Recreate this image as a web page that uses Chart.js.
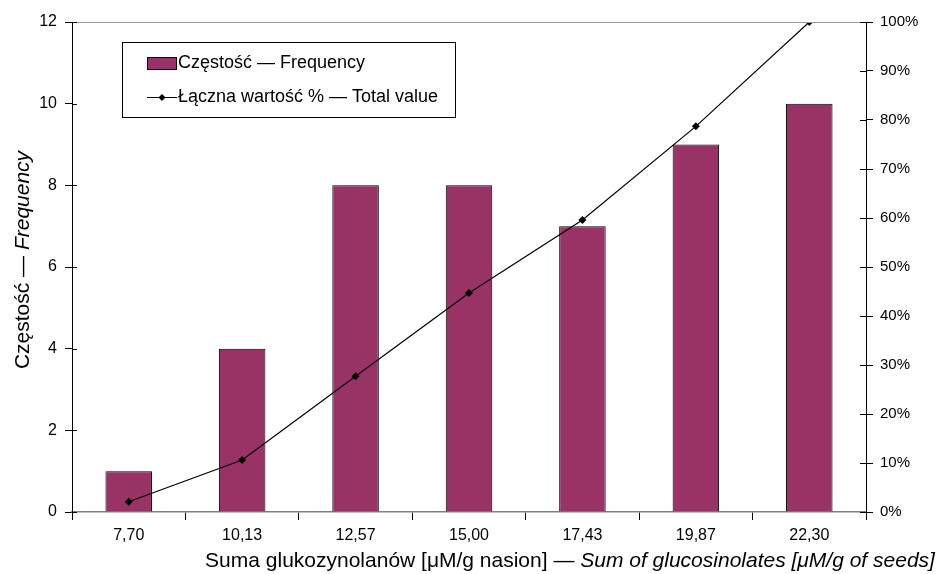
<!DOCTYPE html>
<html>
<head>
<meta charset="utf-8">
<script src="https://cdn.jsdelivr.net/npm/chart.js@4"></script>
<style>
  html, body { margin: 0; padding: 0; background: #fff; }
  #wrap { width: 945px; height: 574px; }
</style>
</head>
<body>
<div id="wrap"><canvas id="chart" width="945" height="574"></canvas></div>
<script>
// values
const categories = ["7,70", "10,13", "12,57", "15,00", "17,43", "19,87", "22,30"];
const frequency = [1, 4, 8, 8, 7, 9, 10];
const cumulativePct = [2.1, 10.6, 27.7, 44.7, 59.6, 78.7, 100];

const FONT = "'Liberation Sans', Arial, sans-serif";
const PLUM = "#993366";

// axis titles with mixed upright / italic parts, legend box, inner tick halves
const decor = {
  id: "decor",
  afterDraw(chart) {
    const c = chart.ctx;
    const a = chart.chartArea;
    const barSet = chart.data.datasets.find(d => d.type !== "line");
    const lineSet = chart.data.datasets.find(d => d.type === "line");
    c.save();

    // top border of plot area
    c.strokeStyle = "#9a9a9a";
    c.lineWidth = 1;
    c.beginPath();
    c.moveTo(a.left, a.top + 0.5);
    c.lineTo(a.right, a.top + 0.5);
    c.stroke();

    // inner half of the y ticks (they cross the axis)
    c.strokeStyle = "#000";
    const yl = chart.scales.y, yr = chart.scales.y1;
    yl.ticks.forEach(t => {
      const py = Math.round(yl.getPixelForValue(t.value)) + 0.5;
      c.beginPath(); c.moveTo(a.left, py); c.lineTo(a.left + 5, py); c.stroke();
    });
    yr.ticks.forEach(t => {
      const py = Math.round(yr.getPixelForValue(t.value)) + 0.5;
      c.beginPath(); c.moveTo(a.right - 6, py); c.lineTo(a.right, py); c.stroke();
    });

    // x title
    c.fillStyle = "#000";
    c.textBaseline = "alphabetic";
    const p1 = "Suma glukozynolanów [\u03bcM/g nasion] \u2014 ";
    const p2 = "Sum of glucosinolates [\u03bcM/g of seeds]";
    c.font = "21px " + FONT;
    const w1 = c.measureText(p1).width;
    c.font = "italic 21px " + FONT;
    const w2 = c.measureText(p2).width;
    let x0 = 570 - (w1 + w2) / 2;
    if (x0 + w1 + w2 > 943) x0 = 943 - w1 - w2;
    c.font = "21px " + FONT;
    c.fillText(p1, x0, 567);
    c.font = "italic 21px " + FONT;
    c.fillText(p2, x0 + w1, 567);

    // y title (rotated)
    const q1 = "Cz\u0119sto\u015b\u0107 \u2014 ";
    const q2 = "Frequency";
    c.font = "21px " + FONT;
    const v1 = c.measureText(q1).width;
    c.font = "italic 21px " + FONT;
    const v2 = c.measureText(q2).width;
    c.translate(29, 260);
    c.rotate(-Math.PI / 2);
    const s = -(v1 + v2) / 2;
    c.font = "21px " + FONT;
    c.fillText(q1, s, 0);
    c.font = "italic 21px " + FONT;
    c.fillText(q2, s + v1, 0);
    c.setTransform(1, 0, 0, 1, 0, 0);

    // legend
    const lx = 122, ly = 42, lw = 333, lh = 75;
    c.fillStyle = "#fff";
    c.fillRect(lx, ly, lw, lh);
    c.strokeStyle = "#000";
    c.strokeRect(lx + 0.5, ly + 0.5, lw, lh);
    c.fillStyle = PLUM;
    c.fillRect(147, 57, 29, 12);
    c.strokeRect(147.5, 57.5, 29, 12);
    c.beginPath();
    c.moveTo(147, 97.5);
    c.lineTo(177, 97.5);
    c.stroke();
    c.fillStyle = "#000";
    c.beginPath();
    c.moveTo(162, 94); c.lineTo(165.5, 97.5); c.lineTo(162, 101); c.lineTo(158.5, 97.5);
    c.closePath();
    c.fill();
    c.font = "18px " + FONT;
    c.textBaseline = "middle";
    c.fillText(barSet.label, 178, 63);
    c.fillText(lineSet.label, 178, 97);
    c.restore();
  }
};

new Chart(document.getElementById("chart"), {
  type: "bar",
  data: {
    labels: categories,
    datasets: [
      {
        type: "line",
        label: "\u0141\u0105czna warto\u015b\u0107 % \u2014 Total value",
        data: cumulativePct,
        yAxisID: "y1",
        borderColor: "#000",
        backgroundColor: "#000",
        borderWidth: 1.2,
        pointStyle: "rectRot",
        pointRadius: 4,
        pointBorderWidth: 0,
        tension: 0,
        order: 0
      },
      {
        type: "bar",
        label: "Cz\u0119sto\u015b\u0107 \u2014 Frequency",
        data: frequency,
        yAxisID: "y",
        backgroundColor: PLUM,
        borderColor: "#000",
        borderWidth: 1,
        categoryPercentage: 1,
        barPercentage: 0.41,
        order: 1
      }
    ]
  },
  options: {
    responsive: false,
    animation: false,
    layout: { padding: { top: 22, left: 0, right: 0, bottom: 0 } },
    plugins: { legend: { display: false }, tooltip: { enabled: false } },
    scales: {
      x: {
        offset: true,
        grid: { offset: true, drawOnChartArea: false, drawTicks: true, tickLength: 8, color: "#000" },
        border: { color: "#808080", width: 1.5 },
        ticks: { color: "#000", font: { family: FONT, size: 16 }, padding: 6 },
        afterFit(s) { s.height = 62; }
      },
      y: {
        position: "left",
        min: 0, max: 12,
        ticks: { stepSize: 2, color: "#000", font: { family: FONT, size: 16 }, padding: 8 },
        grid: { drawOnChartArea: false, tickLength: 7, color: "#000" },
        border: { color: "#000", width: 1 },
        afterFit(s) { s.width = 72; }
      },
      y1: {
        position: "right",
        min: 0, max: 100,
        ticks: { stepSize: 10, color: "#000", font: { family: FONT, size: 15 }, padding: 7,
                 callback: v => v + "%" },
        grid: { drawOnChartArea: false, tickLength: 7, color: "#000" },
        border: { color: "#000", width: 1 },
        afterFit(s) { s.width = 79; }
      }
    }
  },
  plugins: [decor]
});
</script>
</body>
</html>
